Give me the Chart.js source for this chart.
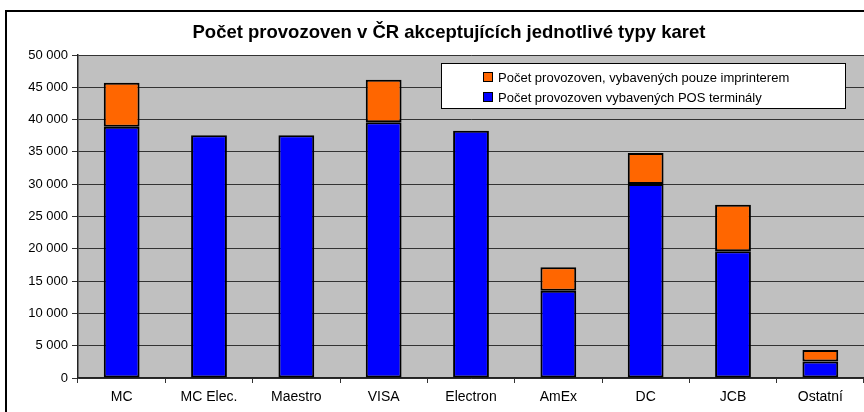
<!DOCTYPE html>
<html>
<head>
<meta charset="utf-8">
<script src="https://cdn.jsdelivr.net/npm/chart.js@4/dist/chart.umd.min.js"></script>
<style>
  html, body { margin: 0; padding: 0; background: #fff; }
  #wrap { width: 864px; height: 412px; }
</style>
</head>
<body>
<div id="wrap"><canvas id="chartKarty" width="864" height="412"></canvas></div>
<script>
// ===== DATA =====
const kategorie = ["MC", "MC Elec.", "Maestro", "VISA", "Electron", "AmEx", "DC", "JCB", "Ostatní"];
const posTerminaly = [38900, 37570, 37570, 39580, 38280, 13510, 30030, 19610, 2550];
const imprintery = [6810, 0, 0, 6600, 0, 3630, 4800, 7220, 1800];
const yTicks = [0, 5000, 10000, 15000, 20000, 25000, 30000, 35000, 40000, 45000, 50000];

const nazevGrafu = "Počet provozoven v ČR akceptujících jednotlivé typy karet";
const popisPos = "Počet provozoven vybavených POS terminály";
const popisImp = "Počet provozoven, vybavených pouze imprinterem";

const barvy = {
    pos: "#0000ff",
    imp: "#ff6600",
    plocha: "#c0c0c0",
    mrizka: "#333333"
};

const FONT = "Arial, 'Liberation Sans', sans-serif";

function formatCislo(v) {
    return String(v).replace(/\B(?=(\d{3})+(?!\d))/g, " ");
}

// pozadí, rámeček, nadpis a legenda
const kreslicka = {
    id: "kreslicka",
    beforeDraw(chart) {
        const ctx = chart.ctx;
        const a = chart.chartArea;
        ctx.save();
        ctx.fillStyle = "#fff";
        ctx.fillRect(0, 0, chart.width, chart.height);
        ctx.fillStyle = barvy.plocha;
        ctx.fillRect(a.left, a.top, a.right - a.left, a.bottom - a.top);
        ctx.restore();
    },
    afterDraw(chart) {
        const ctx = chart.ctx;
        ctx.save();
        // vnější rámeček
        ctx.strokeStyle = "#000";
        ctx.lineWidth = 2;
        ctx.strokeRect(6, 11, 900, 500);

        // nadpis
        ctx.fillStyle = "#000";
        ctx.font = "bold 18.5px " + FONT;
        ctx.textAlign = "center";
        ctx.textBaseline = "middle";
        ctx.fillText(nazevGrafu, 449, 33);

        // legenda
        ctx.fillStyle = "#fff";
        ctx.fillRect(441, 63, 404, 45);
        ctx.lineWidth = 1;
        ctx.strokeStyle = "#000";
        ctx.strokeRect(441.5, 63.5, 404, 45);

        const polozky = [
            { text: chart.data.datasets[1].label, barva: chart.data.datasets[1].backgroundColor, y: 77 },
            { text: chart.data.datasets[0].label, barva: chart.data.datasets[0].backgroundColor, y: 97 }
        ];
        ctx.font = "13px " + FONT;
        ctx.textAlign = "left";
        polozky.forEach(p => {
            ctx.fillStyle = p.barva;
            ctx.fillRect(484, p.y - 4, 8, 8);
            ctx.strokeStyle = "#000";
            ctx.strokeRect(483.5, p.y - 4.5, 9, 9);
            ctx.fillStyle = "#000";
            ctx.fillText(p.text, 498, p.y + 1);
        });
        ctx.restore();
    }
};

// nulové sloupce nekreslit s okrajem
const okraj = c => (c.raw ? 2 : 0);

new Chart(document.getElementById("chartKarty"), {
    type: "bar",
    data: {
        labels: kategorie,
        datasets: [
            {
                label: popisPos,
                data: posTerminaly,
                backgroundColor: barvy.pos,
                borderColor: "#000",
                borderWidth: okraj,
                borderSkipped: false
            },
            {
                label: popisImp,
                data: imprintery,
                backgroundColor: barvy.imp,
                borderColor: "#000",
                borderWidth: okraj,
                borderSkipped: false
            }
        ]
    },
    options: {
        responsive: false,
        animation: false,
        layout: { padding: { top: 55, left: 0, right: 0, bottom: 0 } },
        datasets: {
            bar: { categoryPercentage: 1, barPercentage: 0.41 }
        },
        plugins: {
            legend: { display: false },
            title: { display: false },
            tooltip: { enabled: false }
        },
        scales: {
            x: {
                stacked: true,
                afterFit(s) { s.height = 34; },
                grid: {
                    offset: true,
                    drawOnChartArea: false,
                    tickLength: 5,
                    color: barvy.mrizka
                },
                border: { color: "#222", width: 1.5 },
                ticks: {
                    color: "#000",
                    padding: 6,
                    maxRotation: 0,
                    autoSkip: false,
                    font: { family: FONT, size: 14 }
                }
            },
            y: {
                stacked: true,
                min: 0,
                max: 50000,
                afterFit(s) { s.width = 78; },
                afterBuildTicks(s) { s.ticks = yTicks.map(v => ({ value: v })); },
                grid: {
                    color: barvy.mrizka,
                    tickLength: 6,
                    lineWidth: 1
                },
                border: { color: "#222", width: 1.5 },
                ticks: {
                    color: "#000",
                    padding: 4,
                    font: { family: FONT, size: 13 },
                    callback: v => formatCislo(v)
                }
            }
        }
    },
    plugins: [kreslicka]
});
</script>
</body>
</html>
